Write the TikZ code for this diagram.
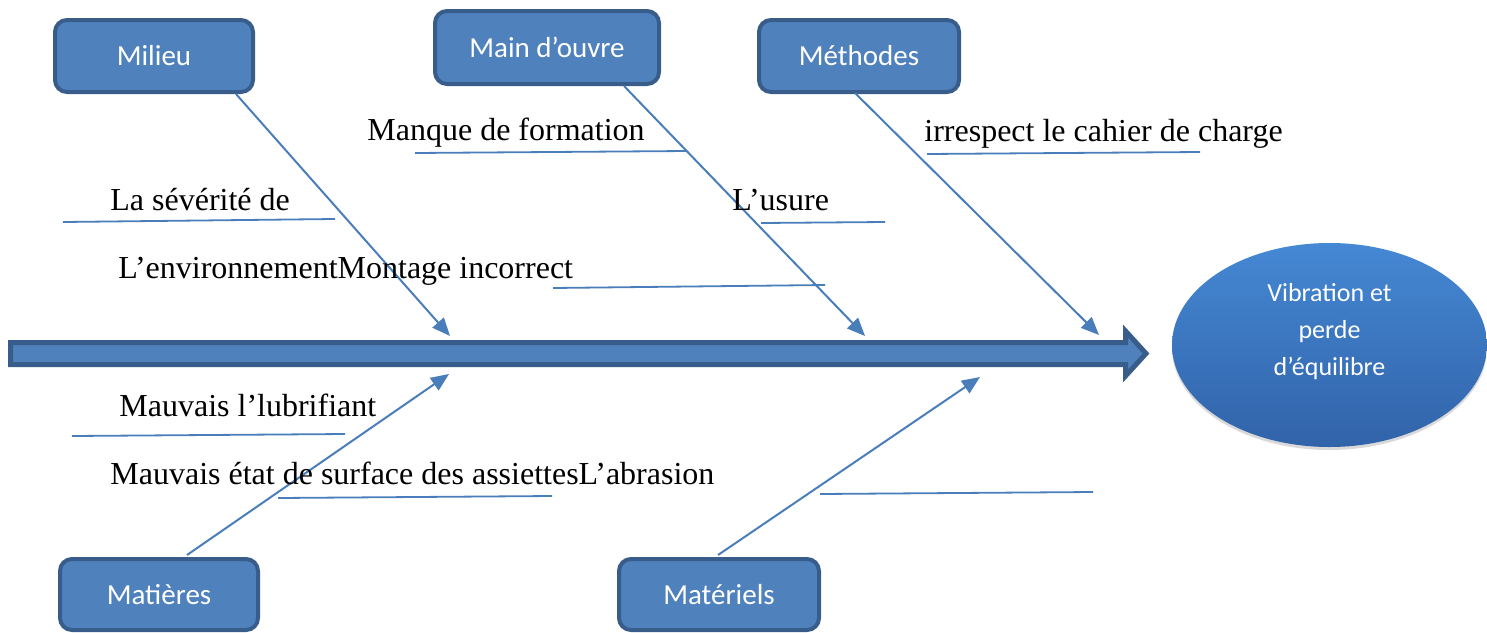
\documentclass[tikz,border=0pt]{standalone}
\usepackage{fontspec}
\setmainfont{Liberation Serif}
\newfontfamily\calfont{Carlito}
\usetikzlibrary{arrows.meta,shapes.geometric,shadows}
\definecolor{boxfill}{HTML}{4F81BD}
\definecolor{boxline}{HTML}{385D8A}
\definecolor{bone}{HTML}{4A7EBB}
\definecolor{ovaltop}{HTML}{4588D4}
\definecolor{ovalbot}{HTML}{3163A9}

\begin{document}
\begin{tikzpicture}[x=0.5pt,y=-0.5pt,
  category/.style={draw=boxline, fill=boxfill, line width=2pt, rounded corners=6pt,
    inner sep=0pt, text=white, font=\calfont\fontsize{14.5}{17}\selectfont},
  causetext/.style={anchor=base west, inner sep=0pt, font=\fontsize{16}{19}\selectfont},
  boneline/.style={draw=bone, line width=1pt, -{Triangle[length=9pt,width=7.5pt]}},
  causeline/.style={draw=bone, line width=0.9pt}]

\useasboundingbox (0,0) rectangle (1487,632);

% main spine (block arrow)
\path[fill=boxfill, draw=boxline, line width=2.5pt]
  (10.5,342.5) -- (1125.5,342.5) -- (1125.5,331) -- (1146,353.5)
  -- (1125.5,376) -- (1125.5,364.5) -- (10.5,364.5) -- cycle;

% effect
\node[ellipse, minimum width=157.5pt, minimum height=102pt, inner sep=0pt,
      top color=ovaltop, bottom color=ovalbot,
      drop shadow={opacity=0.3, shadow xshift=0pt, shadow yshift=-1.5pt}]
  (effect) at (1329.5,345) {};
\node[text=white, align=center, inner sep=0pt,
      font=\calfont\fontsize{13}{18.5}\selectfont]
  (effecttext) at (1329.5,332) {Vibration et\\perde\\d’équilibre};

% categories
\node[category, minimum width=99pt,  minimum height=36pt]   (milieu)    at (154,56)    {Milieu};
\node[category, minimum width=112pt, minimum height=36.5pt] (main)      at (547,47.5)  {Main d’ouvre};
\node[category, minimum width=100pt, minimum height=36pt]   (methodes)  at (859,56)    {Méthodes};
\node[category, minimum width=99pt,  minimum height=35.5pt] (matieres)  at (159,594.5) {Matières};
\node[category, minimum width=100pt, minimum height=35.5pt] (materiels) at (719,594.5) {Matériels};

% bone ends
\coordinate (s1) at (236,94);   \coordinate (t1) at (450,336);
\coordinate (s2) at (624,86);   \coordinate (t2) at (865,336);
\coordinate (s3) at (855,93);   \coordinate (t3) at (1099,335);
\coordinate (s4) at (187,555);  \coordinate (t4) at (449,374);
\coordinate (s5) at (718,555);  \coordinate (t5) at (980,377);

\draw[boneline] (s1) -- (t1);
\draw[boneline] (s2) -- (t2);
\draw[boneline] (s3) -- (t3);
\draw[boneline] (s4) -- (t4);
\draw[boneline] (s5) -- (t5);

% causes
\node[causetext] (c1) at (110,210) {La sévérité de};
\node[causetext] (c2) at (367,140) {Manque de formation};
\node[causetext] (c3) at (732,210) {L’usure};
\node[causetext] (c4) at (924,141) {irrespect le cahier de charge};
\node[causetext] (c5) at (118,278) {L’environnementMontage incorrect};
\node[causetext] (c6) at (119,416) {Mauvais l’lubrifiant};
\node[causetext] (c7) at (110,484) {Mauvais état de surface des assiettesL’abrasion};

% cause underlines
\coordinate (u1a) at (63,222);   \coordinate (u1b) at (335,219);
\coordinate (u2a) at (415,153);  \coordinate (u2b) at (687,151);
\coordinate (u3a) at (761,223);  \coordinate (u3b) at (885,222);
\coordinate (u4a) at (927,154);  \coordinate (u4b) at (1200,152);
\coordinate (u5a) at (553,288);  \coordinate (u5b) at (825,285);
\coordinate (u6a) at (72,436);   \coordinate (u6b) at (345,434);
\coordinate (u7a) at (278,498);  \coordinate (u7b) at (552,496);
\coordinate (u8a) at (820,494);  \coordinate (u8b) at (1093,492);

\draw[causeline] (u1a) -- (u1b);
\draw[causeline] (u2a) -- (u2b);
\draw[causeline] (u3a) -- (u3b);
\draw[causeline] (u4a) -- (u4b);
\draw[causeline] (u5a) -- (u5b);
\draw[causeline] (u6a) -- (u6b);
\draw[causeline] (u7a) -- (u7b);
\draw[causeline] (u8a) -- (u8b);
\end{tikzpicture}
\end{document}
